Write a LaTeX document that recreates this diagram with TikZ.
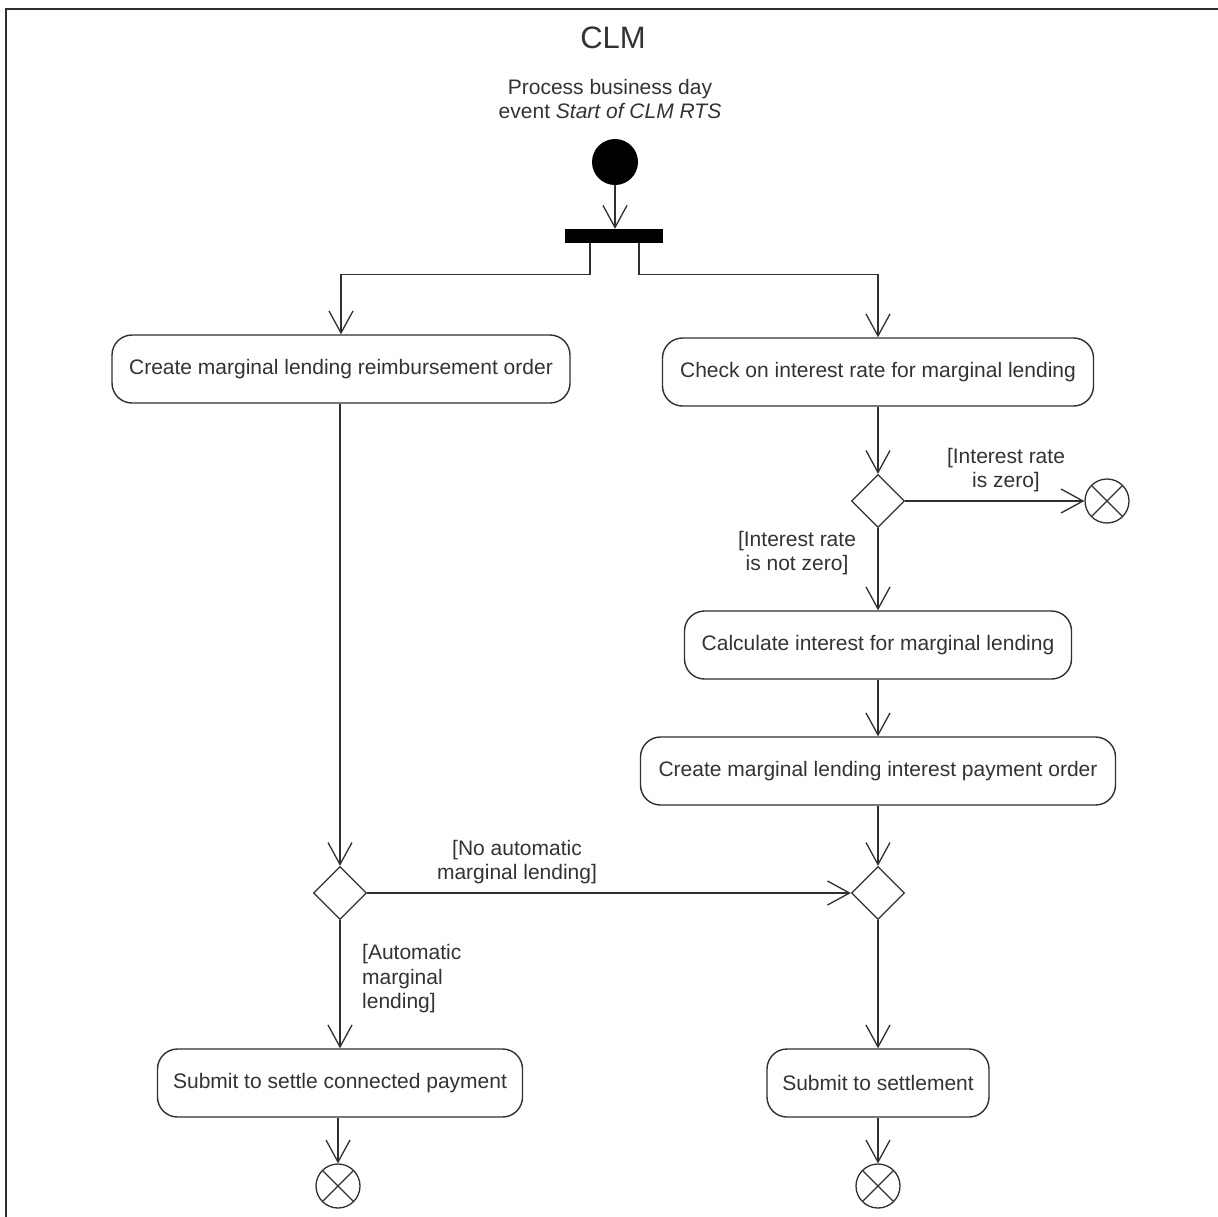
\documentclass[tikz,border=0pt]{standalone}
\usepackage{fontspec}
\setmainfont{Liberation Sans}
\usetikzlibrary{arrows.meta,shapes.geometric,positioning}
\definecolor{ln}{HTML}{303030}
\definecolor{tx}{HTML}{333333}
\begin{document}
\begin{tikzpicture}[x=1pt,y=-1pt,
  every node/.style={text=tx,font=\fontsize{21}{24.5}\selectfont},
  act/.style={draw=ln,line width=1.4pt,rounded corners=20pt,minimum height=68pt,inner sep=0pt},
  dec/.style={draw=ln,line width=1.3pt,diamond,aspect=1,minimum width=53pt,minimum height=53pt,inner sep=0pt},
  fin/.style={draw=ln,line width=1.3pt,circle,minimum size=44pt,inner sep=0pt,
    path picture={\draw[ln,line width=1.3pt] (path picture bounding box.north west)--(path picture bounding box.south east)
      (path picture bounding box.north east)--(path picture bounding box.south west);}},
  arr/.style={draw=ln,line width=1.3pt,-{Straight Barb[length=22pt,width=24pt,line width=1.3pt]}},
  lbl/.style={align=center,inner sep=0pt}
]
\useasboundingbox (0,0) rectangle (1218,1216);
\fill[white] (0,0) rectangle (1218,1216);
% frame
\draw[ln,line width=2.5pt] (6,1220) -- (6,9) -- (1222,9);
\node (title) at (613,38) {\fontsize{31}{34}\selectfont CLM};
\node[lbl] (ev) at (610,99) {Process business day\\event \textit{Start of CLM RTS}};
\node[circle,fill=black,minimum size=46pt,inner sep=0pt] (init) at (615,162) {};
\node[fill=black,minimum width=98pt,minimum height=14pt,inner sep=0pt] (bar) at (614,236) {};
\node[act,minimum width=458pt] (b1) at (341,369) {Create marginal lending reimbursement order};
\node[act,minimum width=431pt] (b2) at (878,372) {Check on interest rate for marginal lending};
\node[dec] (d1) at (878,501) {};
\node[fin] (e1) at (1107,501) {};
\node[act,minimum width=387pt] (b3) at (878,645) {Calculate interest for marginal lending};
\node[act,minimum width=475pt] (b4) at (878,771) {Create marginal lending interest payment order};
\node[dec] (d2) at (340,893) {};
\node[dec] (d3) at (878,893) {};
\node[act,minimum width=365pt] (b5) at (340,1083) {Submit to settle connected payment};
\node[act,minimum width=222pt] (b6) at (878,1083) {Submit to settlement};
\node[fin] (e2) at (338,1186) {};
\node[fin] (e3) at (878,1186) {};
% labels
\node[lbl] (l1) at (1006,470) {[Interest rate\\is zero]};
\node[lbl] (l2) at (797,553) {[Interest rate\\is not zero]};
\node[lbl] (l3) at (517,862) {[No automatic\\marginal lending]};
\node[lbl,align=left,anchor=west] (l4) at (362,979) {[Automatic\\marginal\\lending]};
% connectors
\draw[arr] (init) -- (init|-bar.north);
\draw[arr] ([xshift=-24pt]bar.south) -- ++(0,31) -| (b1.north);
\draw[arr] ([xshift=25pt]bar.south) -- ++(0,31) -| (b2.north);
\draw[arr] (b2) -- (d1.north);
\draw[arr] (d1.east) -- (e1.west);
\draw[arr] (d1.south) -- (b3.north);
\draw[arr] (b3) -- (b4.north);
\draw[arr] (b4) -- (d3.north);
\draw[arr] (b1.south-|d2) -- (d2.north);
\draw[arr] (d2.east) -- (d3.west);
\draw[arr] (d2.south) -- (b5.north-|d2);
\draw[arr] (d3.south) -- (b6.north);
\draw[arr] (b5.south-|e2) -- (e2.north);
\draw[arr] (b6) -- (e3.north);
\end{tikzpicture}
\end{document}
